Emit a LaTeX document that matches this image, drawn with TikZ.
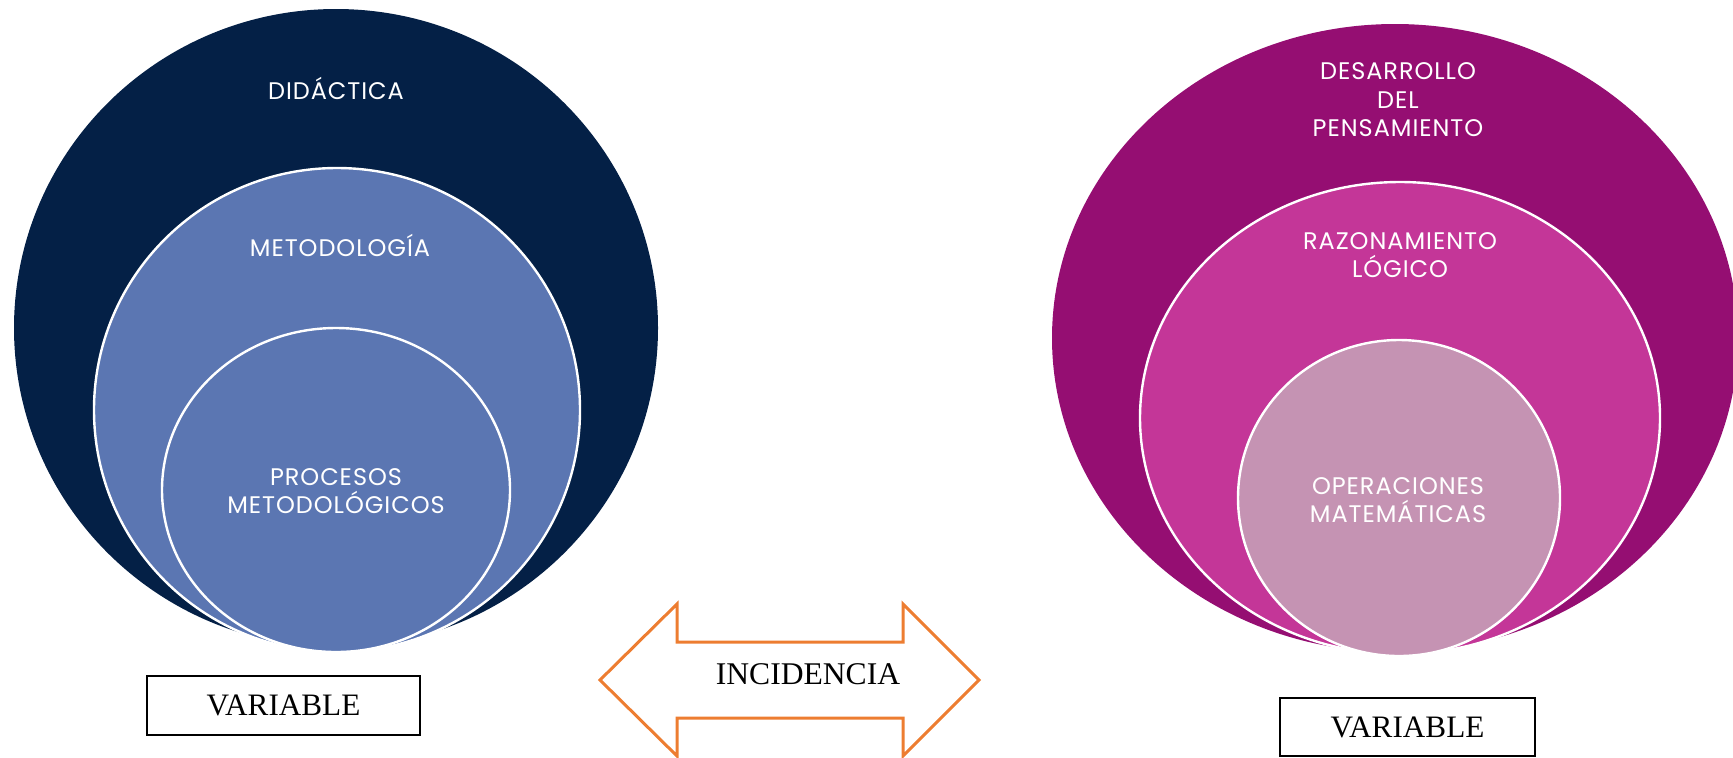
\documentclass[tikz,border=0pt]{standalone}
\usepackage{fontspec}
\setmainfont{Liberation Serif}
\newfontfamily\gothic[LetterSpace=4]{Poppins}
\usetikzlibrary{shapes.geometric}
\definecolor{navy}{HTML}{042046}
\definecolor{steel}{HTML}{5B76B2}
\definecolor{plum}{HTML}{950E72}
\definecolor{orchid}{HTML}{C43698}
\definecolor{mauve}{HTML}{C593B3}
\definecolor{arroworange}{HTML}{ED7D31}
\tikzset{
  ring/.style={ellipse, inner sep=0pt, draw=white, line width=1.2pt},
  lbl/.style={text=white, align=center, font=\gothic\fontsize{12}{14.2}\selectfont},
  varbox/.style={draw, line width=0.6pt, inner sep=0pt, font=\fontsize{15.6}{18}\selectfont}
}
\begin{document}
\begin{tikzpicture}[x=0.5pt,y=-0.5pt]
    \useasboundingbox (0,0) rectangle (1733,757);
    \clip (0,0) rectangle (1733,757);
    % left variable
    \node[ring,draw=none,fill=navy,minimum width=322pt,minimum height=319pt] (Did) at (336,328) {};
    \node[ring,fill=steel,minimum width=243pt,minimum height=242pt] (Met) at (337,410) {};
    \node[ring,fill=steel,minimum width=174pt,minimum height=162pt] (Proc) at (336,490) {};
    \node[lbl] (tDid) at (336,88) {DIDÁCTICA};
    \node[lbl] (tMet) at (340,245) {METODOLOGÍA};
    \node[lbl] (tProc) at (336,491) {PROCESOS\\METODOLÓGICOS};
    \node[varbox,minimum width=136.5pt,minimum height=29.5pt] (V1) at (283.5,705.5) {VARIABLE};
    % right variable
    \node[ring,draw=none,fill=plum,minimum width=343pt,minimum height=314pt] (Des) at (1395,338) {};
    \node[ring,fill=orchid,minimum width=260pt,minimum height=236pt] (Raz) at (1400,418) {};
    \node[ring,fill=mauve,minimum width=161pt,minimum height=158pt] (Ope) at (1399,498) {};
    \node[lbl] (tDes) at (1398,100) {DESARROLLO\\DEL\\PENSAMIENTO};
    \node[lbl] (tRaz) at (1400,255) {RAZONAMIENTO\\LÓGICO};
    \node[lbl] (tOpe) at (1398,500) {OPERACIONES\\MATEMÁTICAS};
    \node[varbox,minimum width=127.5pt,minimum height=29pt] (V2) at (1407.5,727) {VARIABLE};
    % incidence arrow
    \draw[arroworange,line width=1.5pt,line join=miter]
        (600,680) -- (677,604) -- (677,642) -- (903,642) -- (903,604) -- (979,680)
        -- (903,756) -- (903,718) -- (677,718) -- (677,756) -- cycle;
    \node[font=\fontsize{15.8}{18}\selectfont] (Inc) at (808,674) {INCIDENCIA};
\end{tikzpicture}
\end{document}
